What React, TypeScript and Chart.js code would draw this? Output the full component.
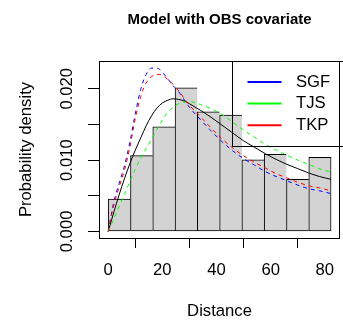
import { useEffect, useRef } from 'react';
import { Chart, registerables } from 'chart.js';

Chart.register(...registerables);

// ---- data ----
const binEdges = [0, 8.23, 16.46, 24.69, 32.92, 41.15, 49.38, 57.61, 65.84, 74.07, 82.3];
const binDensity = [0.00453, 0.01063, 0.01468, 0.02014, 0.01678, 0.01632, 0.01002, 0.01082, 0.00732, 0.0104];

const curveX = [0, 2, 4, 6, 8, 10, 12, 14, 16, 18, 20, 22, 24, 26, 28, 30, 34, 38, 42, 46, 50, 54, 58, 62, 66, 70, 74, 78, 82.3];
const fittedCurve = [0, 0.0026, 0.0051, 0.0074, 0.0095, 0.0114, 0.0131, 0.0148, 0.0162, 0.0173, 0.018, 0.0184, 0.0186, 0.0185, 0.0183, 0.0179, 0.017, 0.016, 0.0149, 0.0138, 0.0127, 0.0118, 0.0109, 0.0101, 0.0094, 0.0088, 0.0082, 0.0077, 0.0073];
const sgfCurve = [0, 0.004, 0.0067, 0.0092, 0.0125, 0.0165, 0.0199, 0.022, 0.0229, 0.0229, 0.0223, 0.0214, 0.0204, 0.0196, 0.0185, 0.0174, 0.0157, 0.0141, 0.0126, 0.0113, 0.0102, 0.0093, 0.0084, 0.0077, 0.0071, 0.0065, 0.006, 0.0057, 0.0053];
const tjsCurve = [0, 0.0017, 0.0035, 0.0052, 0.007, 0.0087, 0.0103, 0.0116, 0.0129, 0.0143, 0.0156, 0.0167, 0.0174, 0.0179, 0.0181, 0.0182, 0.0178, 0.0172, 0.0164, 0.0153, 0.0142, 0.0132, 0.0122, 0.0114, 0.0107, 0.01, 0.0094, 0.0088, 0.0083];
const tkpCurve = [0, 0.0036, 0.0062, 0.0086, 0.0118, 0.0158, 0.0189, 0.0208, 0.0217, 0.022, 0.0219, 0.0213, 0.0206, 0.0197, 0.0187, 0.0177, 0.0161, 0.0145, 0.013, 0.0117, 0.0106, 0.0097, 0.0089, 0.0081, 0.0075, 0.0069, 0.0064, 0.0061, 0.0057];

const xTickValues = [0, 20, 40, 60, 80];
const xTickLabels = ['0', '20', '40', '60', '80'];
const yTickValues = [0, 0.005, 0.01, 0.015, 0.02];
const yTickLabels = ['0.000', '', '0.010', '', '0.020'];

const legendLabels = ['SGF', 'TJS', 'TKP'];
const legendColors = ['#0000FF', '#00FF00', '#FF0000'];

const titleText = 'Model with OBS covariate';
const xTitle = 'Distance';
const yTitle = 'Probability density';

const FONT = '"Liberation Sans", Arial, Helvetica, sans-serif';
const BASE = 16.67;

const framePlugin = {
  id: 'frame',
  afterDatasetsDraw(chart: any) {
    const { ctx, chartArea: ca } = chart;
    ctx.save();
    ctx.strokeStyle = '#000';
    ctx.lineWidth = 1;
    const l = Math.floor(ca.left) + 0.5;
    const t = Math.floor(ca.top) + 0.5;
    const r = Math.floor(ca.right) - 0.5;
    const b = Math.floor(ca.bottom) + 0.5;
    ctx.strokeRect(l, t, r - l, b - t);
    ctx.restore();
  },
  afterDraw(chart: any) {
    const { ctx, chartArea: ca } = chart;
    ctx.save();
    const boxL = Math.floor(ca.right - 108) + 0.5;
    const boxT = Math.floor(ca.top) + 0.5;
    ctx.strokeStyle = '#000';
    ctx.lineWidth = 1;
    ctx.strokeRect(boxL, boxT, 200, 85);
    ctx.font = `${BASE}px ${FONT}`;
    ctx.textBaseline = 'middle';
    ctx.textAlign = 'left';
    legendLabels.forEach((lab, i) => {
      const y = ca.top + 21 + i * 21.6;
      ctx.strokeStyle = legendColors[i];
      ctx.lineWidth = 2;
      ctx.beginPath();
      ctx.moveTo(boxL + 15, y);
      ctx.lineTo(boxL + 49, y);
      ctx.stroke();
      ctx.fillStyle = '#000';
      ctx.fillText(lab, boxL + 63.5, y);
    });
    ctx.restore();
  },
};

export default function App() {
  const ref = useRef<HTMLCanvasElement | null>(null);

  useEffect(() => {
    if (!ref.current) return;
    const mkLine = (vals: number[], color: string, dashed: boolean, label: string, order: number) => ({
      type: 'line' as const,
      label,
      data: curveX.map((x, i) => ({ x, y: vals[i] })),
      borderColor: color,
      borderWidth: 1,
      borderDash: dashed ? [4, 4] : [],
      pointRadius: 0,
      fill: false,
      cubicInterpolationMode: 'monotone' as const,
      order,
    });

    const chart = new Chart(ref.current, {
      type: 'bar',
      data: {
        datasets: [
          {
            type: 'bar',
            label: 'Histogram',
            data: binDensity.map((d, i) => ({ x: (binEdges[i] + binEdges[i + 1]) / 2, y: d })),
            backgroundColor: '#D3D3D3',
            borderColor: '#000000',
            borderWidth: (c: any) => ({ left: 1, top: 1, bottom: 1, right: c.dataIndex === binDensity.length - 1 ? 1 : 0 }),
            borderSkipped: false,
            barPercentage: 1,
            categoryPercentage: 1,
            grouped: false,
            order: 10,
          } as any,
          mkLine(fittedCurve, '#000000', false, 'Fitted', 4),
          mkLine(sgfCurve, legendColors[0], true, legendLabels[0], 3),
          mkLine(tjsCurve, legendColors[1], true, legendLabels[1], 2),
          mkLine(tkpCurve, legendColors[2], true, legendLabels[2], 1),
        ],
      },
      options: {
        responsive: false,
        animation: false,
        events: [],
        layout: { padding: { left: 0, right: 3, top: 0, bottom: 0 } },
        plugins: {
          legend: { display: false },
          tooltip: { enabled: false },
          title: {
            display: true,
            text: titleText,
            fullSize: false,
            color: '#000',
            font: { family: FONT, size: 15, weight: 'bold', lineHeight: 1.2 },
            padding: { top: 10.8, bottom: 32.2 },
          },
        },
        scales: {
          x: {
            type: 'linear',
            min: -3.4,
            max: 85.6,
            offset: false,
            afterBuildTicks: (s: any) => {
              s.ticks = xTickValues.map((v) => ({ value: v }));
            },
            afterFit: (s: any) => {
              s.height = 82;
              s.paddingLeft = 0;
              s.paddingRight = 0;
            },
            ticks: {
              autoSkip: false,
              minRotation: 0,
              maxRotation: 0,
              padding: 12.8,
              color: '#000',
              font: { family: FONT, size: BASE },
              callback: (_v: any, i: number) => xTickLabels[i],
            },
            grid: { display: true, drawOnChartArea: false, drawTicks: true, tickLength: 10, color: '#000', lineWidth: 1 },
            border: { display: false },
            title: {
              display: true,
              text: xTitle,
              color: '#000',
              font: { family: FONT, size: BASE, lineHeight: 1 },
              padding: { top: 0, bottom: 0 },
            },
          },
          y: {
            type: 'linear',
            min: -0.00092,
            max: 0.02389,
            afterBuildTicks: (s: any) => {
              s.ticks = yTickValues.map((v) => ({ value: v }));
            },
            afterFit: (s: any) => {
              s.width = 99;
              s.paddingTop = 0;
              s.paddingBottom = 0;
            },
            ticks: {
              autoSkip: false,
              minRotation: 90,
              maxRotation: 90,
              crossAlign: 'center',
              padding: 0,
              color: '#000',
              font: { family: FONT, size: BASE },
              callback: (_v: any, i: number) => yTickLabels[i],
            },
            grid: { display: true, drawOnChartArea: false, drawTicks: true, tickLength: 11, color: '#000', lineWidth: 1 },
            border: { display: false },
            title: {
              display: true,
              text: yTitle,
              color: '#000',
              font: { family: FONT, size: BASE, lineHeight: 1.2 },
              padding: { top: 16, bottom: 0 },
            },
          },
        },
      } as any,
      plugins: [framePlugin],
    });
    return () => chart.destroy();
  }, []);

  return (
    <div style={{ position: 'absolute', left: 0, top: 0, width: 343, height: 320, background: '#fff' }}>
      <canvas ref={ref} width={343} height={320} style={{ display: 'block' }} />
    </div>
  );
}
